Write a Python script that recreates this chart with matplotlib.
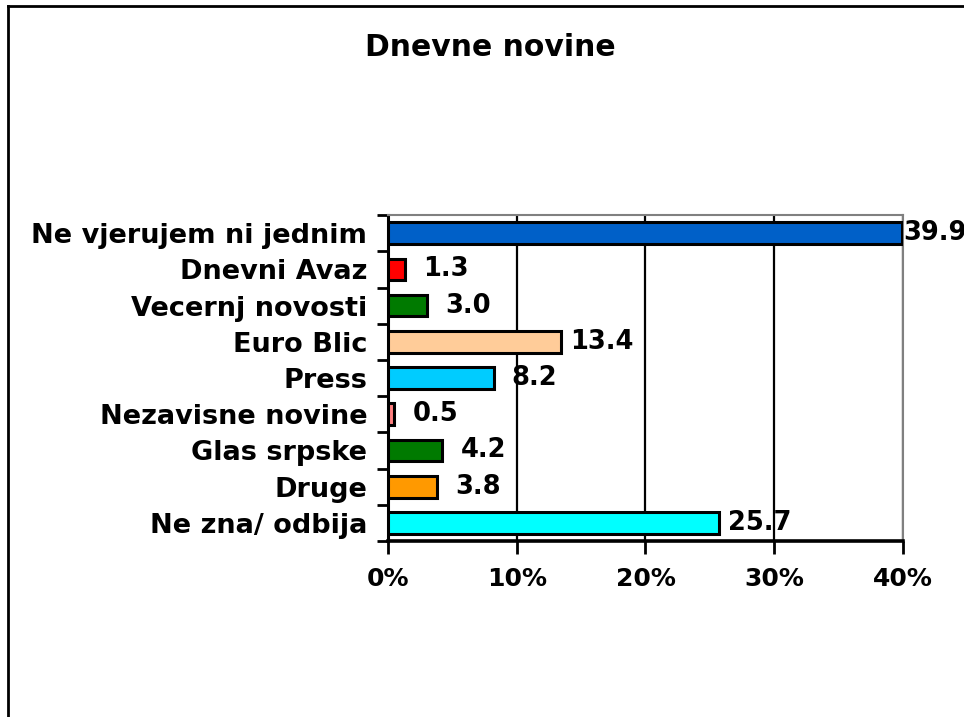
import matplotlib
matplotlib.use("Agg")
import matplotlib.pyplot as plt
from matplotlib.lines import Line2D

# data (top to bottom as shown)
categories = ["Ne vjerujem ni jednim", "Dnevni Avaz", "Vecernj novosti", "Euro Blic",
              "Press", "Nezavisne novine", "Glas srpske", "Druge", "Ne zna/ odbija"]
values = [39.9, 1.3, 3.0, 13.4, 8.2, 0.5, 4.2, 3.8, 25.7]
colors = ["#0060C8", "#FF0000", "#007A00", "#FFCC99", "#00CCFF",
          "#FF8080", "#007A00", "#FF9900", "#00FFFF"]
xticks = [0, 10, 20, 30, 40]
xmax = 40

fig = plt.figure(figsize=(9.64, 7.17), dpi=100)
ax = fig.add_axes([0.4025, 0.2455, 0.5342, 0.4545])

n = len(categories)
pos = list(range(n))
ax.barh(pos, values, height=0.6, color=colors, edgecolor="black", linewidth=2.2, zorder=3)

# value labels; the one at the axis end is pushed against the bar like in the original
for y, v in zip(pos, values):
    if v > xmax - 2:
        ax.annotate(f"{v:.1f}", (v, y), xytext=(2, 0), textcoords="offset pixels",
                    ha="left", va="center", fontsize=18.5, fontweight="bold", zorder=5,
                    annotation_clip=False)
    else:
        ax.annotate(f"{v:.1f}", (v, y), xytext=(41, 0), textcoords="offset pixels",
                    ha="center", va="center", fontsize=18.5, fontweight="bold", zorder=5,
                    annotation_clip=False)

ax.set_xlim(0, xmax)
ax.set_ylim(n - 0.5, -0.5)

ax.set_xticks(xticks)
ax.set_xticklabels([f"{t}%" for t in xticks], fontsize=18, fontweight="bold")
ax.tick_params(axis="x", length=9, width=2, pad=10, colors="black")

# category ticks at boundaries, labels at centres
ax.set_yticks([i - 0.5 for i in range(n + 1)])
ax.set_yticklabels([])
ax.tick_params(axis="y", which="major", length=8, width=2)
ax.set_yticks(pos, minor=True)
ax.set_yticklabels(categories, minor=True, fontsize=19.5, fontweight="bold")
ax.tick_params(axis="y", which="minor", length=0, pad=15)

ax.grid(axis="x", color="black", linewidth=1.6, zorder=1)
ax.spines["left"].set_linewidth(2.2)
ax.spines["bottom"].set_linewidth(2.6)
ax.spines["top"].set_color("#808080")
ax.spines["right"].set_color("#808080")
ax.spines["top"].set_linewidth(1.5)
ax.spines["right"].set_linewidth(1.5)

fig.text(0.509, 0.934, "Dnevne novine", ha="center", va="center",
         fontsize=21.5, fontweight="bold")

# outer chart frame (top and left edges)
fig.add_artist(Line2D([0.0085, 1.0], [0.9915, 0.9915], color="black", linewidth=2))
fig.add_artist(Line2D([0.0085, 0.0085], [0.0, 0.9915], color="black", linewidth=2))

fig.savefig("out.png", dpi=100)
